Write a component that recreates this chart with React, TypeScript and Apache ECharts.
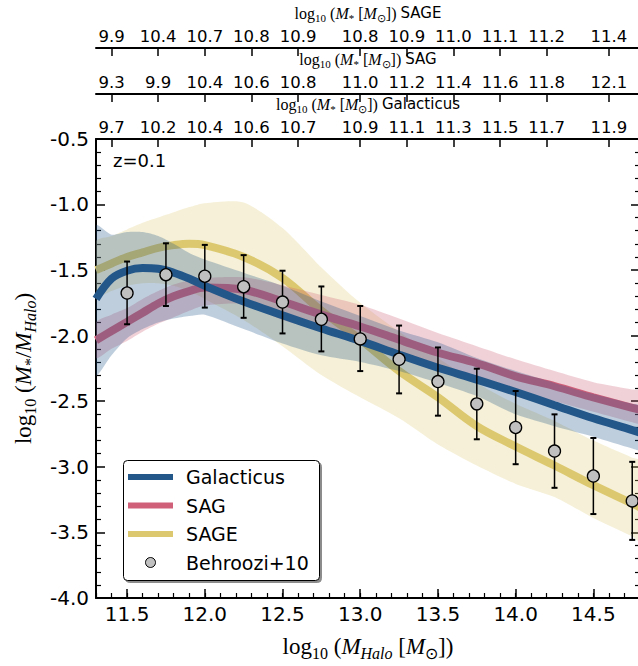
import React, { useEffect, useRef } from 'react';
import * as echarts from 'echarts';

// ---------------- data ----------------
const haloMass = [11.3, 11.4, 11.5, 11.6, 11.7, 11.8, 11.9, 12.0, 12.25, 12.5, 12.75, 13.0, 13.25, 13.5, 13.75, 14.0, 14.25, 14.5, 14.75, 14.8];

const galacticusMedian = [-1.72, -1.565, -1.505, -1.485, -1.49, -1.52, -1.565, -1.62, -1.74, -1.845, -1.945, -2.04, -2.145, -2.245, -2.335, -2.43, -2.53, -2.63, -2.72, -2.74];
const galacticusUpper = [-1.16, -1.23, -1.21, -1.21, -1.24, -1.30, -1.37, -1.42, -1.52, -1.62, -1.74, -1.85, -1.96, -2.05, -2.17, -2.27, -2.36, -2.445, -2.52, -2.535];
const galacticusLower = [-2.30, -2.15, -2.02, -1.95, -1.90, -1.87, -1.85, -1.84, -1.95, -2.06, -2.15, -2.20, -2.27, -2.36, -2.46, -2.60, -2.69, -2.77, -2.86, -2.87];

const sagMedian = [-2.035, -1.965, -1.895, -1.825, -1.755, -1.70, -1.66, -1.633, -1.65, -1.74, -1.84, -1.93, -2.03, -2.13, -2.21, -2.31, -2.385, -2.47, -2.55, -2.565];
const sagUpper = [-1.90, -1.84, -1.79, -1.72, -1.66, -1.61, -1.58, -1.56, -1.555, -1.615, -1.69, -1.765, -1.87, -1.98, -2.08, -2.18, -2.27, -2.355, -2.41, -2.42];
const sagLower = [-2.17, -2.10, -2.04, -1.97, -1.91, -1.86, -1.81, -1.77, -1.76, -1.88, -1.96, -2.03, -2.14, -2.24, -2.33, -2.43, -2.50, -2.58, -2.66, -2.67];

const sageMedian = [-1.50, -1.45, -1.40, -1.365, -1.33, -1.31, -1.30, -1.31, -1.40, -1.56, -1.81, -2.03, -2.27, -2.47, -2.69, -2.845, -2.99, -3.14, -3.28, -3.31];
const sageUpper = [-1.28, -1.24, -1.19, -1.14, -1.10, -1.06, -1.02, -0.99, -0.985, -1.18, -1.48, -1.75, -1.97, -2.17, -2.36, -2.52, -2.65, -2.80, -2.93, -2.95];
const sageLower = [-1.70, -1.66, -1.62, -1.60, -1.60, -1.62, -1.66, -1.72, -1.88, -2.08, -2.30, -2.47, -2.63, -2.83, -2.99, -3.13, -3.23, -3.39, -3.53, -3.57];

const behrooziX = [11.5, 11.75, 12.0, 12.25, 12.5, 12.75, 13.0, 13.25, 13.5, 13.75, 14.0, 14.25, 14.5, 14.75];
const behrooziY = [-1.675, -1.535, -1.547, -1.627, -1.744, -1.875, -2.025, -2.18, -2.35, -2.52, -2.70, -2.88, -3.07, -3.26];
const behrooziUpper = [-1.435, -1.296, -1.308, -1.386, -1.505, -1.625, -1.774, -1.923, -2.09, -2.252, -2.422, -2.60, -2.78, -2.962];
const behrooziLower = [-1.913, -1.774, -1.786, -1.864, -1.983, -2.12, -2.27, -2.44, -2.61, -2.79, -2.98, -3.16, -3.36, -3.557];

const bottomTicks = [11.5, 12.0, 12.5, 13.0, 13.5, 14.0, 14.5];
const bottomMinorTicks = [11.3, 11.4, 11.5, 11.6, 11.7, 11.8, 11.9, 12.0, 12.1, 12.2, 12.3, 12.4, 12.5, 12.6, 12.7, 12.8, 12.9, 13.0, 13.1, 13.2, 13.3, 13.4, 13.5, 13.6, 13.7, 13.8, 13.9, 14.0, 14.1, 14.2, 14.3, 14.4, 14.5, 14.6, 14.7, 14.8];
const topTickHalo = [11.4, 11.7, 12.0, 12.3, 12.6, 13.0, 13.3, 13.6, 13.9, 14.2, 14.6];
const sageTopLabels = ['9.9', '10.4', '10.7', '10.8', '10.9', '10.8', '10.9', '11.0', '11.1', '11.2', '11.4'];
const sagTopLabels = ['9.3', '9.9', '10.4', '10.6', '10.8', '11.0', '11.2', '11.4', '11.6', '11.8', '12.1'];
const galTopLabels = ['9.7', '10.2', '10.4', '10.6', '10.7', '10.9', '11.1', '11.3', '11.5', '11.7', '11.9'];

const legendNames = ['Galacticus', 'SAG', 'SAGE', 'Behroozi+10'];

// ---------------- styles ----------------
const C_GAL = '#235689';
const C_SAG = '#d0607a';
const C_SAGE = '#dcc86e';
const B_GAL = 'rgba(35,86,137,0.29)';
const B_SAG = 'rgba(208,96,122,0.29)';
const B_SAGE = 'rgba(220,200,110,0.28)';

const SANS = 'DejaVu Sans';
const SERIF = 'Liberation Serif';

function mathRich(size: number) {
  const sub = Math.round(size * 0.7);
  return {
    r: { fontFamily: SERIF, fontSize: size, color: '#000', lineHeight: Math.round(size * 1.25), verticalAlign: 'middle' },
    i: { fontFamily: SERIF, fontStyle: 'italic', fontSize: size, color: '#000', lineHeight: Math.round(size * 1.25), verticalAlign: 'middle' },
    sub: { fontFamily: SERIF, fontSize: sub, color: '#000', lineHeight: Math.round(size * 0.75), verticalAlign: 'bottom' },
    isub: { fontFamily: SERIF, fontStyle: 'italic', fontSize: sub, color: '#000', lineHeight: Math.round(size * 0.75), verticalAlign: 'bottom' },
    s: { fontFamily: SANS, fontSize: Math.round(size * 0.95), color: '#000', lineHeight: Math.round(size * 1.25), verticalAlign: 'middle' },
  };
}

function topLabelFormatter(labels: string[]) {
  return (v: number) => {
    const idx = topTickHalo.findIndex((t) => Math.abs(t - v) < 1e-6);
    return idx >= 0 ? labels[idx] : '';
  };
}

function topAxis(offset: number, labels: string[], model: string) {
  return {
    type: 'value',
    position: 'top',
    offset,
    min: 11.3,
    max: 14.8,
    name: '{r|log}{sub|10}{r| (}{i|M}{sub|*}{r| [}{i|M}{sub|⊙}{r|]) }{s|' + model + '}',
    nameLocation: 'middle',
    nameGap: 20,
    nameTextStyle: { rich: mathRich(16) },
    axisLine: { show: true, onZero: false, lineStyle: { color: '#000', width: 2 } },
    axisTick: { show: true, inside: true, length: 8, customValues: topTickHalo, lineStyle: { color: '#000', width: 1.5 } },
    axisLabel: { show: true, customValues: topTickHalo, formatter: topLabelFormatter(labels), fontFamily: SANS, fontSize: 16.5, color: '#000', margin: 3 },
    splitLine: { show: false },
  };
}

function bandSeries(name: string, lower: number[], upper: number[], color: string, z: number) {
  return {
    type: 'custom',
    name: name + ' band',
    xAxisIndex: 0,
    yAxisIndex: 0,
    clip: true,
    silent: true,
    data: haloMass.map((x, i) => [x, lower[i], upper[i]]),
    encode: { x: 0, y: [1, 2] },
    renderItem: (params: any, api: any) => {
      if (params.dataIndex !== 0) return null;
      const pts: number[][] = [];
      for (let i = 0; i < haloMass.length; i++) pts.push(api.coord([haloMass[i], upper[i]]));
      for (let i = haloMass.length - 1; i >= 0; i--) pts.push(api.coord([haloMass[i], lower[i]]));
      return { type: 'polygon', shape: { points: pts, smooth: 0.25 }, style: { fill: color } };
    },
    z,
  };
}

function lineSeries(name: string, values: number[], color: string, z: number) {
  return {
    type: 'line',
    name,
    xAxisIndex: 0,
    yAxisIndex: 0,
    data: haloMass.map((x, i) => [x, values[i]]),
    showSymbol: false,
    symbol: 'none',
    smooth: 0.35,
    lineStyle: { color, width: 8 },
    z,
  };
}

export default function App() {
  const ref = useRef<HTMLDivElement>(null);

  useEffect(() => {
    if (!ref.current) return;
    const chart = echarts.init(ref.current, undefined, { renderer: 'svg' });

    const legendRowY = [477, 505.5, 534, 562.5];
    const legendColors = [C_GAL, C_SAG, C_SAGE];

    const graphics: any[] = [
      {
        type: 'text',
        left: 113,
        top: 151,
        style: { text: 'z=0.1', fontFamily: SANS, fontSize: 18, fill: '#000' },
        z: 100,
      },
      {
        type: 'rect',
        shape: { x: 123.5, y: 460.5, width: 196, height: 120, r: 4 },
        style: { fill: '#fff', stroke: '#000', lineWidth: 1, shadowColor: 'rgba(0,0,0,0.45)', shadowOffsetX: 2, shadowOffsetY: 2, shadowBlur: 1 },
        z: 100,
      },
    ];
    legendColors.forEach((c, i) => {
      graphics.push({
        type: 'line',
        shape: { x1: 128, y1: legendRowY[i], x2: 173, y2: legendRowY[i] },
        style: { stroke: c, lineWidth: 6 },
        z: 101,
      });
    });
    graphics.push({
      type: 'circle',
      shape: { cx: 150.5, cy: legendRowY[3], r: 5 },
      style: { fill: '#c0c0c0', stroke: '#000', lineWidth: 1 },
      z: 101,
    });
    legendNames.forEach((n, i) => {
      graphics.push({
        type: 'text',
        x: 186,
        y: legendRowY[i],
        style: { text: n, fontFamily: SANS, fontSize: 19, fill: '#000', verticalAlign: 'middle', align: 'left' },
        z: 101,
      });
    });

    const option: any = {
      animation: false,
      backgroundColor: '#fff',
      grid: { left: 96, top: 136, width: 544, height: 469, containLabel: false },
      xAxis: [
        {
          type: 'value',
          position: 'bottom',
          min: 11.3,
          max: 14.8,
          name: '{r|log}{sub|10}{r| (}{i|M}{isub|Halo}{r| [}{i|M}{sub|⊙}{r|])}',
          nameLocation: 'middle',
          nameGap: 34,
          nameTextStyle: { rich: mathRich(23) },
          axisLine: { show: true, onZero: false, lineStyle: { color: '#000', width: 2 } },
          axisTick: { show: true, inside: true, length: 9, customValues: bottomTicks, lineStyle: { color: '#000', width: 1.5 } },
          axisLabel: { show: true, customValues: bottomTicks, formatter: (v: number) => v.toFixed(1), fontFamily: SANS, fontSize: 20, color: '#000', margin: 6 },
          splitLine: { show: false },
        },
        {
          type: 'value',
          position: 'bottom',
          min: 11.3,
          max: 14.8,
          axisLine: { show: false },
          axisTick: { show: true, inside: true, length: 5, customValues: bottomMinorTicks, lineStyle: { color: '#000', width: 1.2 } },
          axisLabel: { show: false },
          splitLine: { show: false },
        },
        topAxis(0, galTopLabels, 'Galacticus'),
        topAxis(45, sagTopLabels, 'SAG'),
        topAxis(91, sageTopLabels, 'SAGE'),
      ],
      yAxis: [
        {
          type: 'value',
          position: 'left',
          min: -4,
          max: -0.5,
          interval: 0.5,
          name: '{r|log}{sub|10}{r| (}{i|M}{sub|*}{r|/}{i|M}{isub|Halo}{r|)}',
          nameLocation: 'middle',
          nameRotate: 90,
          nameGap: 58,
          nameTextStyle: { rich: mathRich(23) },
          axisLine: { show: true, onZero: false, lineStyle: { color: '#000', width: 2 } },
          axisTick: { show: true, inside: true, length: 9, lineStyle: { color: '#000', width: 1.5 } },
          minorTick: { show: true, splitNumber: 5, length: 5, lineStyle: { color: '#000', width: 1.2 } },
          axisLabel: { show: true, formatter: (v: number) => v.toFixed(1), fontFamily: SANS, fontSize: 20, color: '#000', margin: 7 },
          splitLine: { show: false },
          minorSplitLine: { show: false },
        },
        {
          type: 'value',
          position: 'right',
          min: -4,
          max: -0.5,
          interval: 0.5,
          axisLine: { show: true, onZero: false, lineStyle: { color: '#000', width: 2 } },
          axisTick: { show: true, inside: true, length: 9, lineStyle: { color: '#000', width: 1.5 } },
          minorTick: { show: true, splitNumber: 5, length: 5, lineStyle: { color: '#000', width: 1.2 } },
          axisLabel: { show: false },
          splitLine: { show: false },
          minorSplitLine: { show: false },
        },
      ],
      series: [
        bandSeries('SAGE', sageLower, sageUpper, B_SAGE, 1),
        lineSeries('SAGE', sageMedian, C_SAGE, 2),
        bandSeries('SAG', sagLower, sagUpper, B_SAG, 3),
        lineSeries('SAG', sagMedian, C_SAG, 4),
        bandSeries('Galacticus', galacticusLower, galacticusUpper, B_GAL, 5),
        lineSeries('Galacticus', galacticusMedian, C_GAL, 6),
        {
          type: 'custom',
          name: 'Behroozi+10 errors',
          xAxisIndex: 0,
          yAxisIndex: 0,
          clip: true,
          data: behrooziX.map((x, i) => [x, behrooziLower[i], behrooziUpper[i]]),
          encode: { x: 0, y: [1, 2] },
          renderItem: (params: any, api: any) => {
            const x = api.value(0);
            const lo = api.coord([x, api.value(1)]);
            const hi = api.coord([x, api.value(2)]);
            const st = { stroke: '#000', lineWidth: 1.5 };
            return {
              type: 'group',
              children: [
                { type: 'line', shape: { x1: lo[0], y1: lo[1], x2: hi[0], y2: hi[1] }, style: st },
                { type: 'line', shape: { x1: lo[0] - 3, y1: lo[1], x2: lo[0] + 3, y2: lo[1] }, style: { stroke: '#000', lineWidth: 2 } },
                { type: 'line', shape: { x1: hi[0] - 3, y1: hi[1], x2: hi[0] + 3, y2: hi[1] }, style: { stroke: '#000', lineWidth: 2 } },
              ],
            };
          },
          z: 7,
        },
        {
          type: 'scatter',
          name: 'Behroozi+10',
          xAxisIndex: 0,
          yAxisIndex: 0,
          data: behrooziX.map((x, i) => [x, behrooziY[i]]),
          symbol: 'circle',
          symbolSize: 12,
          itemStyle: { color: '#c0c0c0', borderColor: '#000', borderWidth: 1.3, opacity: 1 },
          z: 8,
        },
      ],
      graphic: graphics,
    };

    chart.setOption(option);
    return () => chart.dispose();
  }, []);

  return (
    <div
      ref={ref}
      style={{ position: 'fixed', left: 0, top: 0, width: 642, height: 666, background: '#fff' }}
    />
  );
}
